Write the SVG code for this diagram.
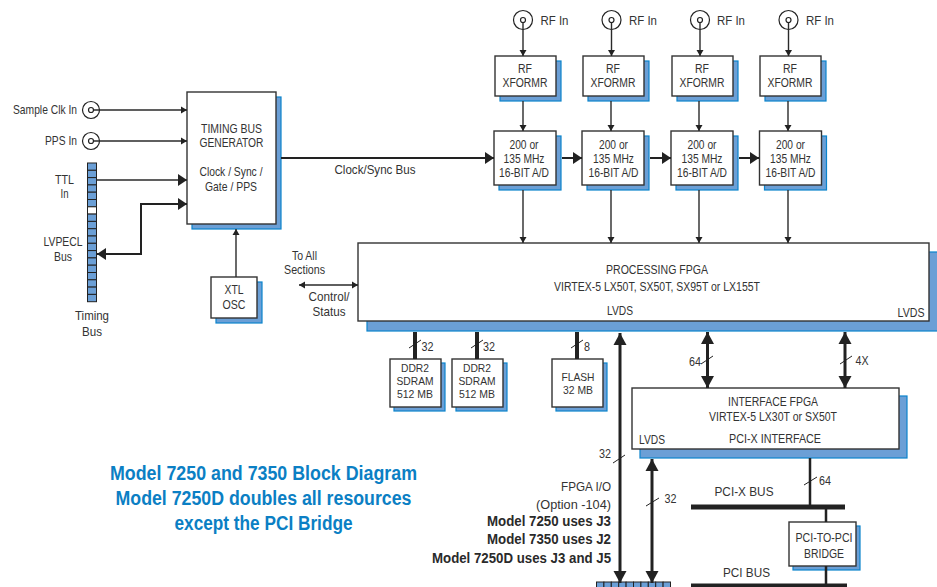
<svg xmlns="http://www.w3.org/2000/svg" width="937" height="587" viewBox="0 0 937 587">
<style>
text{font-family:"Liberation Sans",Arial,sans-serif;font-size:12.100px;fill:#333;text-anchor:middle}
.l{text-anchor:start}.r{text-anchor:end}
.x{font-size:13px}
.d{font-size:11.300px}
.b{font-weight:bold;font-size:14.500px;fill:#2a2a2a}
.n{font-size:13.500px}
.t{font-weight:bold;font-size:20px;fill:#0b7fc4}
.box{fill:#fff;stroke:#333;stroke-width:1.4}
.sh{fill:#6b9fd6;stroke:#0a84cc;stroke-width:1.2}
.w1{fill:none;stroke:#2a2a2a;stroke-width:1.4}
.w2{fill:none;stroke:#222;stroke-width:2}
.w3{fill:none;stroke:#222;stroke-width:3}
.w4{fill:none;stroke:#222;stroke-width:4}
.tk{stroke:#222;stroke-width:1}
.cir{fill:#fff;stroke:#222;stroke-width:1.200}
.cell{fill:#6b9fd6;stroke:#222;stroke-width:1}
</style>
<defs>
<marker id="s" markerUnits="userSpaceOnUse" markerWidth="7" markerHeight="8" refX="6" refY="4" orient="auto-start-reverse"><path d="M0 0.5L6 4L0 7.5Z" fill="#222"/></marker>
<marker id="m" markerUnits="userSpaceOnUse" markerWidth="10" markerHeight="12" refX="9" refY="6" orient="auto-start-reverse"><path d="M0 0L9 6L0 12Z" fill="#222"/></marker>
<marker id="h" markerUnits="userSpaceOnUse" markerWidth="13" markerHeight="14" refX="12" refY="7" orient="auto-start-reverse"><path d="M0 0.5L12 7L0 13.5Z" fill="#222"/></marker>
</defs>
<g id="sample-clk"><circle class="cir" cx="91" cy="110" r="8.500"/><circle class="cir" cx="91" cy="110" r="2.500"/><text class="r" x="77" y="114" textLength="64" lengthAdjust="spacingAndGlyphs">Sample Clk In</text></g>
<g id="pps"><circle class="cir" cx="91" cy="141" r="8.500"/><circle class="cir" cx="91" cy="141" r="2.500"/><text class="r" x="77" y="145" textLength="32" lengthAdjust="spacingAndGlyphs">PPS In</text></g>
<g id="timing-bus">
<rect class="cell" x="87.500" y="163" width="9" height="7.300"/><rect class="cell" x="87.500" y="170.300" width="9" height="7.300"/><rect class="cell" x="87.500" y="177.600" width="9" height="7.300"/><rect class="cell" x="87.500" y="184.900" width="9" height="7.300"/><rect class="cell" x="87.500" y="192.200" width="9" height="7.300"/><rect class="cell" x="87.500" y="199.500" width="9" height="7.300"/><rect class="cell" style="fill:#fff" x="87.500" y="206.800" width="9" height="7.300"/><rect class="cell" x="87.500" y="214.100" width="9" height="7.300"/><rect class="cell" x="87.500" y="221.400" width="9" height="7.300"/><rect class="cell" x="87.500" y="228.700" width="9" height="7.300"/><rect class="cell" x="87.500" y="236" width="9" height="7.300"/><rect class="cell" x="87.500" y="243.300" width="9" height="7.300"/><rect class="cell" x="87.500" y="250.600" width="9" height="7.300"/><rect class="cell" x="87.500" y="257.900" width="9" height="7.300"/><rect class="cell" x="87.500" y="265.200" width="9" height="7.300"/><rect class="cell" x="87.500" y="272.500" width="9" height="7.300"/><rect class="cell" x="87.500" y="279.800" width="9" height="7.300"/><rect class="cell" x="87.500" y="287.100" width="9" height="7.300"/><rect class="cell" x="87.500" y="294.400" width="9" height="7.300"/>
<text x="64.500" y="184" textLength="19" lengthAdjust="spacingAndGlyphs">TTL</text><text x="64.500" y="198" textLength="8" lengthAdjust="spacingAndGlyphs">In</text>
<text x="63" y="246" textLength="39" lengthAdjust="spacingAndGlyphs">LVPECL</text><text x="63" y="261" textLength="18" lengthAdjust="spacingAndGlyphs">Bus</text>
<text class="x" x="92" y="320" textLength="34" lengthAdjust="spacingAndGlyphs">Timing</text><text class="x" x="92" y="336" textLength="20" lengthAdjust="spacingAndGlyphs">Bus</text></g>
<g id="timing-gen"><rect class="sh" x="192" y="97" width="89" height="132"/><rect class="box" x="187" y="92" width="89" height="132"/>
<text x="231.500" y="133" textLength="61" lengthAdjust="spacingAndGlyphs">TIMING BUS</text><text x="231.500" y="147" textLength="64" lengthAdjust="spacingAndGlyphs">GENERATOR</text><text x="231" y="176" textLength="63" lengthAdjust="spacingAndGlyphs">Clock / Sync /</text><text x="231" y="191" textLength="52" lengthAdjust="spacingAndGlyphs">Gate / PPS</text></g>
<g id="xtl"><rect class="sh" x="216" y="282" width="46" height="41"/><rect class="box" x="211" y="277" width="46" height="41"/><text x="234" y="294" textLength="19" lengthAdjust="spacingAndGlyphs">XTL</text><text x="234" y="309" textLength="23" lengthAdjust="spacingAndGlyphs">OSC</text></g>
<g id="rf1"><circle class="cir" cx="523" cy="20" r="9.500"/><circle class="cir" cx="523" cy="20" r="2.500"/><text class="l x" x="540.500" y="24.500" textLength="28" lengthAdjust="spacingAndGlyphs">RF In</text></g>
<g id="rf2"><circle class="cir" cx="611.500" cy="20" r="9.500"/><circle class="cir" cx="611.500" cy="20" r="2.500"/><text class="l x" x="629" y="24.500" textLength="28" lengthAdjust="spacingAndGlyphs">RF In</text></g>
<g id="rf3"><circle class="cir" cx="700" cy="20" r="9.500"/><circle class="cir" cx="700" cy="20" r="2.500"/><text class="l x" x="717" y="24.500" textLength="28" lengthAdjust="spacingAndGlyphs">RF In</text></g>
<g id="rf4"><circle class="cir" cx="788.500" cy="20" r="9.500"/><circle class="cir" cx="788.500" cy="20" r="2.500"/><text class="l x" x="806" y="24.500" textLength="28" lengthAdjust="spacingAndGlyphs">RF In</text></g>
<g id="xf1"><rect class="sh" x="500" y="61" width="61" height="40"/><rect class="box" x="495" y="56" width="61" height="40"/><text x="525" y="73" textLength="14" lengthAdjust="spacingAndGlyphs">RF</text><text x="525" y="87" textLength="45" lengthAdjust="spacingAndGlyphs">XFORMR</text></g>
<g id="xf2"><rect class="sh" x="588" y="61" width="61" height="40"/><rect class="box" x="583" y="56" width="61" height="40"/><text x="613" y="73" textLength="14" lengthAdjust="spacingAndGlyphs">RF</text><text x="613" y="87" textLength="45" lengthAdjust="spacingAndGlyphs">XFORMR</text></g>
<g id="xf3"><rect class="sh" x="677" y="61" width="61" height="40"/><rect class="box" x="672" y="56" width="61" height="40"/><text x="702" y="73" textLength="14" lengthAdjust="spacingAndGlyphs">RF</text><text x="702" y="87" textLength="45" lengthAdjust="spacingAndGlyphs">XFORMR</text></g>
<g id="xf4"><rect class="sh" x="765" y="61" width="61" height="40"/><rect class="box" x="760" y="56" width="61" height="40"/><text x="790" y="73" textLength="14" lengthAdjust="spacingAndGlyphs">RF</text><text x="790" y="87" textLength="45" lengthAdjust="spacingAndGlyphs">XFORMR</text></g>
<g id="ad1"><rect class="sh" x="499" y="136" width="62" height="54"/><rect class="box" x="494" y="131" width="62" height="54"/><text x="524" y="149" textLength="29" lengthAdjust="spacingAndGlyphs">200 or</text><text x="524" y="163" textLength="41" lengthAdjust="spacingAndGlyphs">135 MHz</text><text x="524" y="177" textLength="50" lengthAdjust="spacingAndGlyphs">16-BIT A/D</text></g>
<g id="ad2"><rect class="sh" x="587" y="136" width="62" height="54"/><rect class="box" x="582" y="131" width="62" height="54"/><text x="613.500" y="149" textLength="29" lengthAdjust="spacingAndGlyphs">200 or</text><text x="613.500" y="163" textLength="41" lengthAdjust="spacingAndGlyphs">135 MHz</text><text x="613.500" y="177" textLength="50" lengthAdjust="spacingAndGlyphs">16-BIT A/D</text></g>
<g id="ad3"><rect class="sh" x="676" y="136" width="62" height="54"/><rect class="box" x="671" y="131" width="62" height="54"/><text x="702" y="149" textLength="29" lengthAdjust="spacingAndGlyphs">200 or</text><text x="702" y="163" textLength="41" lengthAdjust="spacingAndGlyphs">135 MHz</text><text x="702" y="177" textLength="50" lengthAdjust="spacingAndGlyphs">16-BIT A/D</text></g>
<g id="ad4"><rect class="sh" x="764.500" y="136" width="62" height="54"/><rect class="box" x="759.500" y="131" width="62" height="54"/><text x="790.500" y="149" textLength="29" lengthAdjust="spacingAndGlyphs">200 or</text><text x="790.500" y="163" textLength="41" lengthAdjust="spacingAndGlyphs">135 MHz</text><text x="790.500" y="177" textLength="50" lengthAdjust="spacingAndGlyphs">16-BIT A/D</text></g>
<text class="x" x="375" y="174" textLength="81" lengthAdjust="spacingAndGlyphs">Clock/Sync Bus</text>
<text x="304.500" y="260" textLength="25" lengthAdjust="spacingAndGlyphs">To All</text><text x="304.500" y="274" textLength="41" lengthAdjust="spacingAndGlyphs">Sections</text>
<text class="x" x="329" y="301" textLength="41" lengthAdjust="spacingAndGlyphs">Control/</text><text class="x" x="329" y="316" textLength="33" lengthAdjust="spacingAndGlyphs">Status</text>
<g id="proc-fpga"><rect class="sh" x="367" y="252" width="575" height="79"/><rect class="box" x="358" y="243" width="571" height="78"/><text x="657" y="274" textLength="102" lengthAdjust="spacingAndGlyphs">PROCESSING FPGA</text><text x="657" y="291" textLength="206" lengthAdjust="spacingAndGlyphs">VIRTEX-5 LX50T, SX50T, SX95T or LX155T</text><text x="620" y="315" textLength="26" lengthAdjust="spacingAndGlyphs">LVDS</text><text x="911" y="317" textLength="27" lengthAdjust="spacingAndGlyphs">LVDS</text></g>
<g id="ddr1"><rect class="sh" x="394" y="363" width="51" height="48"/><rect class="box" x="390" y="359" width="51" height="48"/><text class="d" x="415" y="372" textLength="28" lengthAdjust="spacingAndGlyphs">DDR2</text><text class="d" x="415" y="385" textLength="37" lengthAdjust="spacingAndGlyphs">SDRAM</text><text class="d" x="415" y="398" textLength="36" lengthAdjust="spacingAndGlyphs">512 MB</text></g>
<g id="ddr2"><rect class="sh" x="456" y="363" width="51" height="48"/><rect class="box" x="452" y="359" width="51" height="48"/><text class="d" x="477" y="372" textLength="28" lengthAdjust="spacingAndGlyphs">DDR2</text><text class="d" x="477" y="385" textLength="37" lengthAdjust="spacingAndGlyphs">SDRAM</text><text class="d" x="477" y="398" textLength="36" lengthAdjust="spacingAndGlyphs">512 MB</text></g>
<g id="flash"><rect class="sh" x="556" y="363" width="51" height="48"/><rect class="box" x="552" y="359" width="51" height="48"/><text class="d" x="578" y="381" textLength="33" lengthAdjust="spacingAndGlyphs">FLASH</text><text class="d" x="578" y="394" textLength="30" lengthAdjust="spacingAndGlyphs">32 MB</text></g>
<text x="427.500" y="351" textLength="12" lengthAdjust="spacingAndGlyphs">32</text><text x="489" y="351" textLength="12" lengthAdjust="spacingAndGlyphs">32</text><text x="587" y="351" textLength="6" lengthAdjust="spacingAndGlyphs">8</text>
<text x="695" y="366" textLength="12" lengthAdjust="spacingAndGlyphs">64</text><text x="862" y="365" textLength="13" lengthAdjust="spacingAndGlyphs">4X</text>
<g id="if-fpga"><rect class="sh" x="640" y="396" width="267" height="62"/><rect class="box" x="632" y="388" width="267" height="61"/><text x="773" y="406" textLength="90" lengthAdjust="spacingAndGlyphs">INTERFACE FPGA</text><text x="773" y="421" textLength="128" lengthAdjust="spacingAndGlyphs">VIRTEX-5 LX30T or SX50T</text><text x="775" y="443" textLength="92" lengthAdjust="spacingAndGlyphs">PCI-X  INTERFACE</text><text x="652" y="444" textLength="26" lengthAdjust="spacingAndGlyphs">LVDS</text></g>
<text x="605" y="458" textLength="12" lengthAdjust="spacingAndGlyphs">32</text><text x="670.500" y="503" textLength="12" lengthAdjust="spacingAndGlyphs">32</text><text x="825" y="485" textLength="12" lengthAdjust="spacingAndGlyphs">64</text>
<text class="x" x="744" y="496" textLength="59" lengthAdjust="spacingAndGlyphs">PCI-X BUS</text><text class="x" x="746.500" y="577" textLength="47" lengthAdjust="spacingAndGlyphs">PCI BUS</text>
<g id="bridge"><rect class="sh" x="793" y="526" width="67" height="44"/><rect class="box" x="789" y="522" width="67" height="44"/><text x="824" y="542" textLength="57" lengthAdjust="spacingAndGlyphs">PCI-TO-PCI</text><text x="824" y="558" textLength="40" lengthAdjust="spacingAndGlyphs">BRIDGE</text></g>
<g id="notes"><text class="r n" x="611" y="491" textLength="50" lengthAdjust="spacingAndGlyphs">FPGA I/O</text><text class="r n" x="611" y="509" textLength="75" lengthAdjust="spacingAndGlyphs">(Option -104)</text>
<text class="r b" x="611" y="526" textLength="124" lengthAdjust="spacingAndGlyphs">Model 7250 uses J3</text><text class="r b" x="611" y="544" textLength="124" lengthAdjust="spacingAndGlyphs">Model 7350 uses J2</text><text class="r b" x="611" y="563" textLength="179" lengthAdjust="spacingAndGlyphs">Model 7250D uses J3 and J5</text></g>
<g id="title"><text class="t" x="263.500" y="480" textLength="307" lengthAdjust="spacingAndGlyphs">Model 7250 and 7350 Block Diagram</text><text class="t" x="263.500" y="505" textLength="296" lengthAdjust="spacingAndGlyphs">Model 7250D doubles all resources</text><text class="t" x="263.500" y="530" textLength="178" lengthAdjust="spacingAndGlyphs">except the PCI Bridge</text></g>
<g id="connector-bottom"><rect class="cell" x="596.500" y="582" width="7.400" height="6"/><rect class="cell" x="603.900" y="582" width="7.400" height="6"/><rect class="cell" x="611.300" y="582" width="7.400" height="6"/><rect class="cell" x="618.700" y="582" width="7.400" height="6"/><rect class="cell" x="626.100" y="582" width="7.400" height="6"/><rect class="cell" x="633.500" y="582" width="7.400" height="6"/><rect class="cell" x="640.900" y="582" width="7.400" height="6"/><rect class="cell" x="648.300" y="582" width="7.400" height="6"/><rect class="cell" x="655.700" y="582" width="7.400" height="6"/><rect class="cell" x="663.100" y="582" width="7.400" height="6"/></g>
<g id="connectors">
<path class="w1" d="M93.500 110H187" marker-end="url(#s)"/>
<path class="w1" d="M93.500 141H187" marker-end="url(#s)"/>
<path class="w1" d="M96 180H187" marker-end="url(#m)"/>
<path class="w2" d="M97 254H141V204H187" marker-start="url(#m)" marker-end="url(#m)"/>
<path class="w1" d="M236 277V229" marker-end="url(#s)"/>
<path class="w2" d="M281 158H494" marker-end="url(#m)"/>
<path class="w2" d="M562 158H582" marker-end="url(#m)"/>
<path class="w2" d="M650 158H671" marker-end="url(#m)"/>
<path class="w2" d="M739 158H759" marker-end="url(#m)"/>
<path class="w1" d="M523 22.500V56" marker-end="url(#s)"/>
<path class="w1" d="M611.500 22.500V56" marker-end="url(#s)"/>
<path class="w1" d="M700 22.500V56" marker-end="url(#s)"/>
<path class="w1" d="M788.500 22.500V56" marker-end="url(#s)"/>
<path class="w1" d="M523 101V131" marker-end="url(#s)"/>
<path class="w1" d="M611 101V131" marker-end="url(#s)"/>
<path class="w1" d="M699 101V131" marker-end="url(#s)"/>
<path class="w1" d="M788 101V131" marker-end="url(#s)"/>
<path class="w1" d="M523 190V243" marker-end="url(#s)"/>
<path class="w1" d="M611 190V243" marker-end="url(#s)"/>
<path class="w1" d="M699 190V243" marker-end="url(#s)"/>
<path class="w1" d="M788 190V243" marker-end="url(#s)"/>
<path class="w1" d="M299 285H358" marker-start="url(#s)" marker-end="url(#s)"/>
<path class="w4" d="M415 332V359M477 332V359M577 332V359"/>
<path class="tk" d="M409 348L421 340M471 348L483 340M571 348L583 340"/>
<path class="w3" d="M620 583V333" marker-start="url(#h)" marker-end="url(#h)"/>
<path class="w3" d="M652 583V459" marker-start="url(#h)" marker-end="url(#h)"/>
<path class="w3" d="M707.500 332V388" marker-start="url(#h)" marker-end="url(#h)"/>
<path class="w3" d="M845 332V388" marker-start="url(#h)" marker-end="url(#h)"/>
<path class="tk" d="M613 463L625 455M646 506L659 498M701 364L713 356M840 364L852 356M804 485L817 477"/>
<path class="w2" style="stroke-width:2.500" d="M810 458V507M826 507V522M826 566V587"/>
<path class="w4" style="stroke-width:5" d="M691 507H845M691 586H847"/>
</g>
</svg>
